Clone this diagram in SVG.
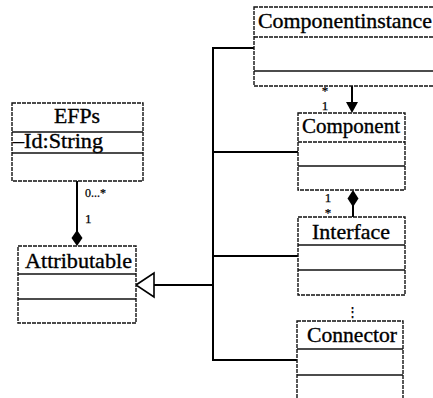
<svg xmlns="http://www.w3.org/2000/svg" width="433" height="398" viewBox="0 0 433 398">
<style>
.box{fill:#fff;stroke:#111;stroke-width:1.4;stroke-dasharray:4 1}
.div{stroke:#111;stroke-width:1.4;fill:none}
.t{font-family:'Liberation Serif','Times New Roman',serif;font-size:21.5px;fill:#000;stroke:#000;stroke-width:0.35}
.m{font-family:'Liberation Serif','Times New Roman',serif;font-size:13px;fill:#000;stroke:#000;stroke-width:0.25}
.c{stroke:#000;stroke-width:2;fill:none}
</style>
<rect width="433" height="398" fill="#fff"/>
<g id="connectors">
<path class="c" d="M254 48H213V360H297M213 152H298M213 256H298M154 285H213"/>
<polygon points="136,285 154,273 154,297" fill="#fff" stroke="#000" stroke-width="1.6"/>
<line class="c" x1="352" y1="86" x2="352" y2="104"/>
<polygon points="346,102 358,102 352,113" fill="#000"/>
<text class="m" x="325" y="95" text-anchor="middle">*</text>
<text class="m" x="325" y="110" text-anchor="middle">1</text>
<line class="c" x1="353" y1="205" x2="353" y2="217"/>
<polygon points="353,190 358.5,198.5 353,207 347.5,198.5" fill="#000"/>
<text class="m" x="328" y="202" text-anchor="middle">1</text>
<text class="m" x="328" y="217" text-anchor="middle">*</text>
<line class="c" x1="77" y1="181" x2="77" y2="232" stroke-width="1.6"/>
<polygon points="77,230 82.5,238 77,246 71.5,238" fill="#000"/>
<text class="m" x="85" y="197" textLength="21" lengthAdjust="spacingAndGlyphs">0...*</text>
<text class="m" x="85" y="223">1</text>
<text class="m" x="352" y="316" font-size="15" text-anchor="middle">⋮</text>
</g>
<g id="Componentinstance">
<rect class="box" x="254" y="7" width="185" height="79"/>
<line class="div" x1="254" y1="37" x2="439" y2="37" stroke-dasharray="4 1"/>
<line class="div" x1="254" y1="71" x2="439" y2="71"/>
<text class="t" x="258" y="28" textLength="174" lengthAdjust="spacingAndGlyphs">Componentinstance</text>
</g>
<g id="Component">
<rect class="box" x="298" y="113" width="107" height="77"/>
<line class="div" x1="298" y1="142" x2="405" y2="142" stroke-dasharray="4 1"/>
<line class="div" x1="298" y1="166" x2="405" y2="166"/>
<text class="t" x="302" y="133" textLength="98" lengthAdjust="spacingAndGlyphs">Component</text>
</g>
<g id="Interface">
<rect class="box" x="298" y="217" width="107" height="78"/>
<line class="div" x1="298" y1="245" x2="405" y2="245"/>
<line class="div" x1="298" y1="270" x2="405" y2="270"/>
<text class="t" x="312" y="239" textLength="78" lengthAdjust="spacingAndGlyphs">Interface</text>
</g>
<g id="Connector">
<rect class="box" x="297" y="321" width="106" height="90"/>
<line class="div" x1="297" y1="349" x2="403" y2="349"/>
<line class="div" x1="297" y1="375" x2="403" y2="375"/>
<text class="t" x="307" y="342" textLength="90" lengthAdjust="spacingAndGlyphs">Connector</text>
</g>
<g id="EFPs">
<rect class="box" x="12" y="103" width="131" height="78"/>
<line class="div" x1="12" y1="132" x2="143" y2="132"/>
<line class="div" x1="12" y1="153" x2="143" y2="153"/>
<text class="t" x="54" y="123" textLength="46" lengthAdjust="spacingAndGlyphs">EFPs</text>
<text class="t" x="13" y="148" textLength="90" lengthAdjust="spacingAndGlyphs">–Id:String</text>
</g>
<g id="Attributable">
<rect class="box" x="18" y="246" width="118" height="77"/>
<line class="div" x1="18" y1="274" x2="136" y2="274"/>
<line class="div" x1="18" y1="299" x2="136" y2="299"/>
<text class="t" x="25" y="268" textLength="107" lengthAdjust="spacingAndGlyphs">Attributable</text>
</g>
</svg>
